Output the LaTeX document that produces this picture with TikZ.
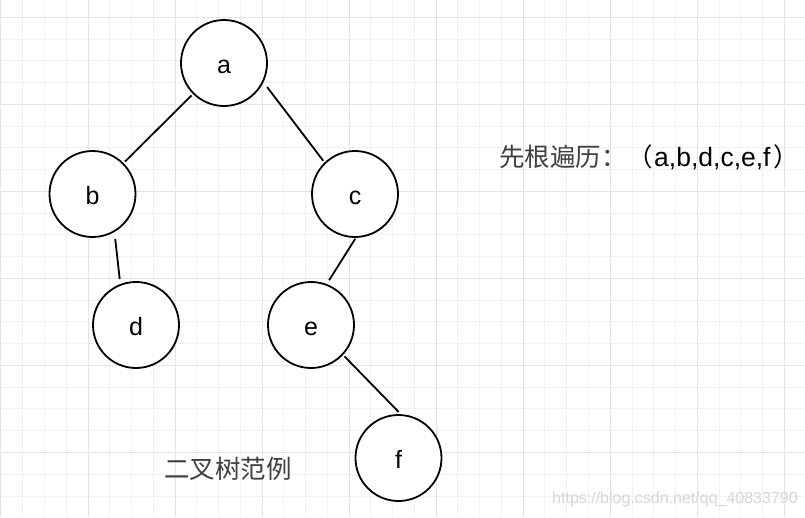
\documentclass[tikz,border=0pt]{standalone}
\usepackage{fontspec}
\setmainfont{Liberation Sans}
\newfontfamily\cjk{Noto Sans CJK SC}
\definecolor{gridminor}{RGB}{241,241,241}
\definecolor{gridmajor}{RGB}{228,228,228}
\begin{document}
\begin{tikzpicture}[x=1pt,y=-1pt,
  minorline/.style={draw=gridminor,line width=1pt},
  majorline/.style={draw=gridmajor,line width=1pt},
  tnode/.style={circle,draw=black,fill=white,line width=1.8pt,minimum size=86pt,inner sep=0pt,
    font=\fontsize{25}{30}\selectfont,text height=24.5pt,text depth=3pt},
  edge/.style={draw=black,line width=1.8pt},
  plain/.style={inner sep=0pt,anchor=base west}]
\useasboundingbox[fill=white] (0,0) rectangle (805,517);
% grid
\foreach \i in {0,...,36} { \draw[minorline] ({0.96+21.76*\i},0) -- ++(0,517); }
\foreach \j in {0,...,22} { \draw[minorline] (0,{17.3+21.76*\j}) -- ++(805,0); }
\foreach \i in {0,...,9} { \draw[majorline] ({0.96+87.04*\i},0) -- ++(0,517); }
\foreach \j in {0,...,5} { \draw[majorline] (0,{17.3+87.04*\j}) -- ++(805,0); }
% nodes
\node[tnode] (a) at (224,63) {a};
\node[tnode] (b) at (92.5,194) {b};
\node[tnode] (c) at (355,194) {c};
\node[tnode] (d) at (136,325) {d};
\node[tnode] (e) at (311,325) {e};
\node[tnode] (f) at (398.5,458) {f};
% edges
\draw[edge,shorten <=2pt,shorten >=2pt] (a.225) -- (b.45);
\draw[edge,shorten <=6pt,shorten >=2pt] (a.-26) -- (c.134);
\draw[edge,shorten <=7pt,shorten >=5pt] (b.-60) -- (d.111);
\draw[edge,shorten <=1pt,shorten >=4.5pt] (c.-89) -- (e.69);
\draw[edge,shorten <=2pt,shorten >=3pt] (e.-43) -- (f.87);
% texts
\node[plain,font=\fontsize{25.5}{30}\selectfont] (trav) at (499,166.5)
  {{\cjk\color{black!75}先根遍历：}\hspace{1pt}{\cjk （}\hspace{1pt}{\fontsize{26.5}{32}\selectfont a,b,d,c,e,f}\hspace{2.5pt}{\cjk ）}};
\node[plain,font=\fontsize{25.5}{30}\selectfont,text=black!75] (cap) at (164,478) {\cjk 二叉树范例};
\node[plain,font=\fontsize{16}{19}\selectfont,text=black!16] (wm) at (552,503.5) {https://blog.csdn.net/qq\_40833790};
\end{tikzpicture}
\end{document}
